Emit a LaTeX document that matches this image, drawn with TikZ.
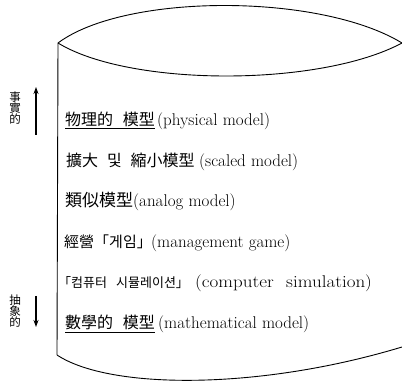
\documentclass[tikz,border=0pt]{standalone}
\usepackage{fontspec}
\usepackage{graphicx}
\newfontfamily\cjk{Noto Sans CJK KR}
\usetikzlibrary{arrows.meta}
\begin{document}
\begin{tikzpicture}[x=1pt,y=-1pt,
  outline/.style={line width=0.9pt, line join=round},
  han/.style={anchor=base west, inner sep=0pt, font=\cjk\fontsize{16}{18}\selectfont},
  lat/.style={anchor=base west, inner sep=0pt, font=\fontsize{17}{19}\selectfont},
  side/.style={inner sep=0pt, font=\cjk\fontsize{11.5}{12}\selectfont, align=center},
  dirarrow/.style={line width=1.1pt, -{Stealth[length=7pt,width=5pt]}}]
\useasboundingbox (0,0) rectangle (402,382);
% cylinder outline
\coordinate (tl) at (58,43);
\coordinate (tr) at (402,43);
\coordinate (bl) at (57,355);
\coordinate (br) at (402,347);
\draw[outline] (tl) .. controls (125,-7) and (320,-7) .. (tr);
\draw[outline] (tl) .. controls (130,87) and (320,87) .. (tr);
\draw[outline] (tl) -- (bl);
\draw[outline] (bl) .. controls (110,390) and (260,390) .. (br);
% items
\node[han] (h1) at (65,126) {\underline{物理的\hspace{0.6em}模型}};
\node[lat] (l1) at (157,126) {(physical model)};
\node[han] (h2) at (66,167) {擴大\hspace{0.55em}및\hspace{0.55em}縮小模型};
\node[lat] (l2) at (199,167) {(scaled model)};
\node[han, font=\cjk\fontsize{17}{18}\selectfont] (h3) at (65,207) {類似模型};
\node[lat] (l3) at (133,207) {(analog model)};
\node[han, font=\cjk\fontsize{15}{18}\selectfont] (h4) at (64,248) {經營「게임」};
\node[lat] (l4) at (151,248) {(management game)};
\node[han, font=\cjk\fontsize{13}{18}\selectfont] (h5) at (58,288) {「컴퓨터\hspace{0.7em}시뮬레이션」};
\node[lat] (l5) at (195,288) {\scalebox{1.12}[1]{(computer\hspace{6pt} simulation)}};
\node[han] (h6) at (65,329) {\underline{數學的\hspace{0.6em}模型}};
\node[lat] (l6) at (158,329) {(mathematical model)};
% side labels
\node[side] (real) at (15,108) {事\\[-1pt]實\\[-1pt]的};
\node[side] (abst) at (15,311) {抽\\[-1pt]象\\[-1pt]的};
\coordinate (ua) at (36,135);
\coordinate (ub) at (36,87);
\coordinate (da) at (36,296);
\coordinate (db) at (36,327);
\draw[dirarrow] (ua) -- (ub);
\draw[dirarrow] (da) -- (db);
\end{tikzpicture}
\end{document}
